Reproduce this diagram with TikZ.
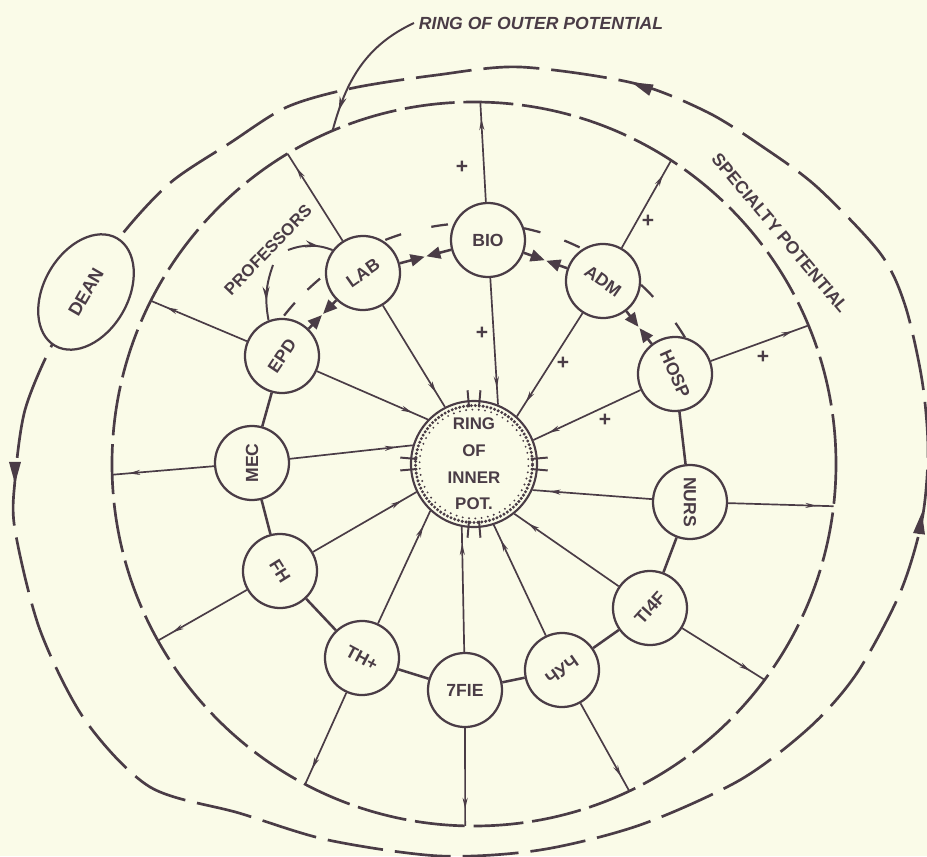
\documentclass[tikz,border=0pt]{standalone}
\usepackage{fontspec}
\setmainfont{Liberation Sans}
\usetikzlibrary{arrows.meta,shapes.geometric,decorations.markings}
\definecolor{paper}{RGB}{250,251,232}
\definecolor{ink}{RGB}{74,60,70}
\tikzset{
  unit/.style={circle,draw,line width=1.6pt,fill=paper,minimum size=1.85cm,
    inner sep=0pt,font=\bfseries\fontsize{12.5}{15}\selectfont},
  spoke/.style={line width=1.2pt,postaction={decorate},
    decoration={markings,mark=at position -0.42cm with
      {\arrow{Stealth[length=8pt,width=3.6pt]}}}},
  link/.style={line width=1.8pt},
  push/.style={line width=1.8pt,-{Triangle[length=10pt,width=8.5pt]},shorten >=0.6pt},
  rim/.style={line width=1.9pt,dash pattern=on 1.25cm off 0.22cm},
  outer rim/.style={line width=1.9pt,dash pattern=on 1.4cm off 0.3cm},
  rimtip/.style={line width=1.9pt,-{Triangle[length=0.55cm,width=0.28cm]}},
  sign/.style={font=\bfseries\fontsize{15}{15}\selectfont,inner sep=1pt},
  curvy/.style={line width=1.4pt,postaction={decorate},
    decoration={markings,mark=at position #1 with
      {\arrow{Stealth[length=10pt,width=5pt]}}}},
}
\begin{document}
\begin{tikzpicture}[x=0.025cm,y=0.025cm,color=ink,line join=round]
    \path[use as bounding box] (-474,-392) rectangle (453,464);
    \fill[paper] (-474,-392) rectangle (453,464);
    \clip (-474,-392) rectangle (453,464);

    \draw[outer rim] plot[smooth cycle] coordinates {
        (-459,-16) (-449,54) (-422,119) (-388,172) (-354,227) (-304,281)
        (-244,321) (-187,357) (-121,376) (-37,389) (46,397) (159,381)
        (233,352) (289,317) (343,277) (406,211) (431,159) (448,84)
        (454,14) (448,-56) (426,-129) (383,-209) (336,-263) (266,-316)
        (166,-361) (66,-386) (-34,-392) (-146,-376) (-235,-349)
        (-324,-323) (-389,-256) (-434,-166) (-459,-66)};
    \draw[rimtip] (177,374) -- (157,382);
    \draw[rimtip] (-459,2) -- (-459,-20);
    \draw[rimtip] (445,-70) -- (448,-48);
    \draw[rim] (0,0) circle (362);

    \node[ellipse,draw,line width=1.6pt,fill=paper,minimum width=3.1cm,
        minimum height=2.1cm,rotate=60,inner sep=0pt,
        font=\bfseries\fontsize{13}{15}\selectfont] (dean) at (-388,172) {DEAN};

    \node[anchor=west,font=\bfseries\itshape\fontsize{12.5}{14}\selectfont]
        (title) at (-60,441) {RING OF OUTER POTENTIAL};
    \coordinate (ohit) at (113:362);
    \draw[curvy=0.85] (title.west) to[out=205,in=75] (ohit);

    \node[rotate=-50,font=\bfseries\fontsize{12.5}{15}\selectfont] (spec)
        at (306,231) {SPECIALTY POTENTIAL};

    \node[circle,draw,line width=1.5pt,fill=paper,minimum size=3.15cm,
        inner sep=0pt,align=center,font=\bfseries\fontsize{12}{19}\selectfont]
        (core) at (0,0) {RING\\OF\\INNER\\POT.};
    \draw[line width=2.4pt,line cap=round,dash pattern=on 0pt off 2.8pt]
        (0,0) circle (58.5);
    \draw[line width=1.5pt,line cap=round,dash pattern=on 0pt off 4.5pt,
        dash phase=1pt] (0,0) circle (54.5);
    \draw[line width=1.4pt] (85:57) -- (85:74) (95:57) -- (95:74)
        (265:57) -- (265:74) (275:57) -- (275:74)
        (175:57) -- (175:74) (185:57) -- (185:74)
        (-5:57) -- (-5:74) (5:57) -- (5:74);

    \node[unit,rotate=35] (lab) at (-111,191) {LAB};
    \node[unit] (bio) at (14,224) {BIO};
    \node[unit,rotate=-35] (adm) at (129,183) {ADM};
    \node[unit,rotate=-66] (hosp) at (201,90) {HOSP};
    \node[unit,rotate=-90] (nurs) at (216,-38) {NURS};
    \node[unit,rotate=48] (thf) at (176,-144) {TI4F};
    \node[unit,rotate=35] (hyt) at (88,-206) {ЧУЧ};
    \node[unit] (fie) at (-9,-226) {7FIE};
    \node[unit,rotate=-28] (thp) at (-112,-194) {TH+};
    \node[unit,rotate=-58] (fh) at (-194,-107) {FH};
    \node[unit,rotate=90] (mec) at (-222,1) {MEC};
    \node[unit,rotate=56] (epd) at (-192,108) {EPD};

    \coordinate (olab) at (121:362);
    \coordinate (obio) at (89:362);
    \coordinate (oadm) at (57:362);
    \coordinate (ohosp) at (22.5:362);
    \coordinate (onurs) at (-6.7:362);
    \coordinate (othf) at (-36.6:362);
    \coordinate (ohyt) at (-64.6:362);
    \coordinate (ofie) at (-91.4:362);
    \coordinate (othp) at (-117.8:362);
    \coordinate (ofh) at (-150.8:362);
    \coordinate (omec) at (181.7:362);
    \coordinate (oepd) at (153.2:362);

    \draw[spoke] (lab) -- (olab);
    \draw[spoke] (bio) -- (obio);
    \draw[spoke] (adm) -- (oadm);
    \draw[spoke] (hosp) -- (ohosp);
    \draw[spoke] (nurs) -- (onurs);
    \draw[spoke] (thf) -- (othf);
    \draw[spoke] (hyt) -- (ohyt);
    \draw[spoke] (fie) -- (ofie);
    \draw[spoke] (thp) -- (othp);
    \draw[spoke] (fh) -- (ofh);
    \draw[spoke] (mec) -- (omec);
    \draw[spoke] (epd) -- (oepd);

    \draw[spoke] (lab) -- (core.117);
    \draw[spoke] (bio) -- (core.68);
    \draw[spoke] (adm) -- (core.48);
    \draw[spoke] (hosp) -- (core.22);
    \draw[spoke] (nurs) -- (core.336);
    \draw[spoke] (thf) -- (core.309);
    \draw[spoke] (hyt) -- (core.288);
    \draw[spoke] (fie) -- (core.259);
    \draw[spoke] (thp) -- (core.227);
    \draw[spoke] (fh) -- (core.206);
    \draw[spoke] (mec) -- (core.163);
    \draw[spoke] (epd) -- (core.136);

    \draw[link] (epd) -- (mec);
    \draw[link] (mec) -- (fh);
    \draw[link] (fh) -- (thp);
    \draw[link] (thp) -- (fie);
    \draw[link] (fie) -- (hyt);
    \draw[link] (hyt) -- (thf);
    \draw[link] (thf) -- (nurs);
    \draw[link] (nurs) -- (hosp);

    \path (epd) -- coordinate[midway] (m1) (lab);
    \path (lab) -- coordinate[midway] (m2) (bio);
    \path (bio) -- coordinate[midway] (m3) (adm);
    \path (adm) -- coordinate[midway] (m4) (hosp);
    \draw[push] (epd) -- (m1);
    \draw[push] (lab) -- (m1);
    \draw[push] (lab) -- (m2);
    \draw[push] (bio) -- (m2);
    \draw[push] (bio) -- (m3);
    \draw[push] (adm) -- (m3);
    \draw[push] (adm) -- (m4);
    \draw[push] (hosp) -- (m4);

    \draw[line width=1.6pt]
        (142:241) arc[start angle=142,end angle=138,radius=241]
        (133.7:241) arc[start angle=133.7,end angle=129.7,radius=241]
        (111.6:241) arc[start angle=111.6,end angle=107.6,radius=241]
        (100.2:241) arc[start angle=100.2,end angle=96.2,radius=241]
        (78:241) arc[start angle=78,end angle=74,radius=241]
        (68:241) arc[start angle=68,end angle=64,radius=241]
        (47:245) arc[start angle=47,end angle=43,radius=245]
        (35:246) arc[start angle=35,end angle=31,radius=246];

    \node[rotate=46,font=\bfseries\fontsize{12}{14}\selectfont] (prof)
        at (-206,214) {PROFESSORS};
    \coordinate (p1) at (-186,214);
    \coordinate (p2) at (-201,199);
    \draw[curvy=0.7] (p1) to[bend left=20] (lab);
    \draw[curvy=0.65] (p2) to[bend right=15] (epd);

    \node[sign] (pl1) at (-12,297) {+};
    \node[sign] (pl2) at (8,131) {+};
    \node[sign] (pl3) at (174,243) {+};
    \node[sign] (pl4) at (89,101) {+};
    \node[sign] (pl5) at (289,107) {+};
    \node[sign] (pl6) at (131,44) {+};
\end{tikzpicture}
\end{document}
